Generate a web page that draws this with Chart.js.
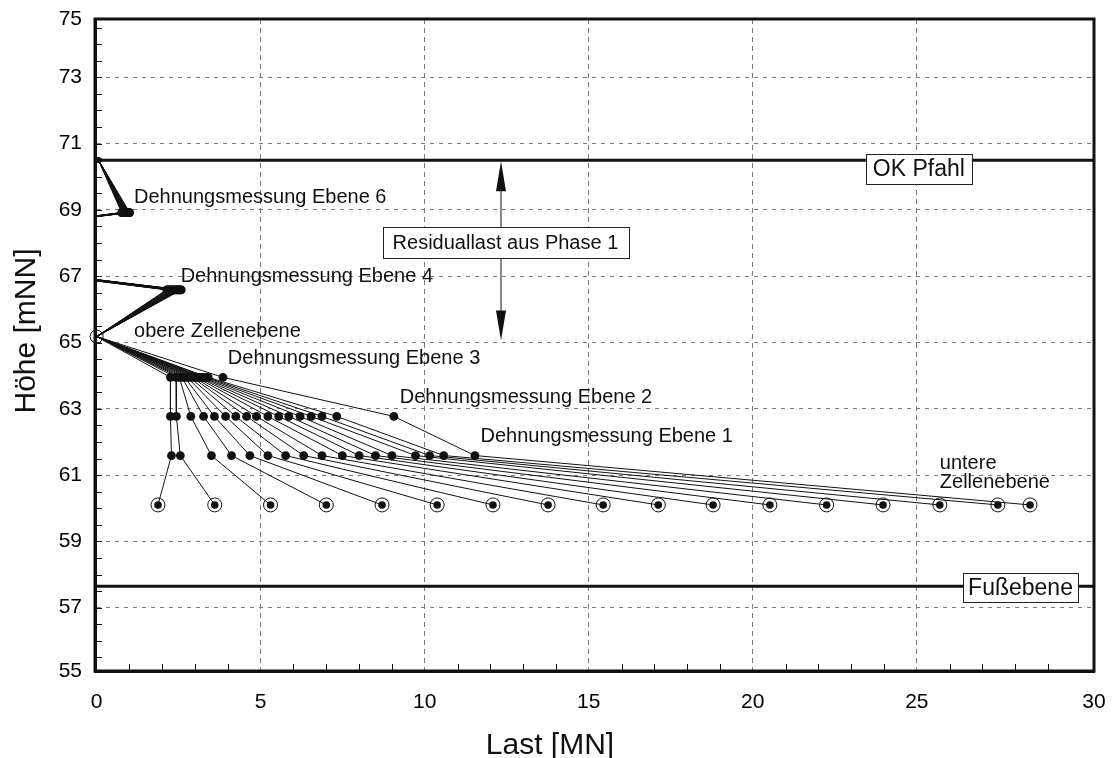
<!DOCTYPE html>
<html><head><meta charset="utf-8">
<script src="https://cdn.jsdelivr.net/npm/chart.js@4"></script>
<style>html,body{margin:0;padding:0;background:#fff}canvas{display:block}</style>
</head><body>
<canvas id="c" width="1117" height="758"></canvas>
<script>
// ---- data (Höhe levels in mNN, Last in MN per load step) ----
const levelNames = ['OK Pfahl','Ebene 6','Ebene 5','Ebene 4','obere Zellenebene','Ebene 3','Ebene 2','Ebene 1','untere Zellenebene'];
const levelHeights = [70.5, 68.92, 67.84, 66.59, 65.18, 63.95, 62.77, 61.59, 60.1];

const lastOKPfahl   = [0.06,0.06,0.06,0.06,0.06,0.06,0.06,0.06,0.06,0.06,0.06,0.06,0.06,0.06,0.06,0.06,0.06];
const lastEbene6    = [0.76,0.78,0.79,0.81,0.82,0.84,0.85,0.87,0.88,0.90,0.91,0.93,0.94,0.96,0.97,0.99,1.01];
const lastEbene5    = [-7.9,-7.9,-7.9,-7.9,-7.9,-7.9,-7.9,-7.9,-7.9,-7.9,-7.9,-7.9,-7.9,-7.9,-7.9,-7.9,-7.9];
const lastEbene4    = [2.13,2.16,2.19,2.22,2.25,2.28,2.31,2.34,2.37,2.40,2.43,2.46,2.49,2.52,2.54,2.56,2.58];
const lastObereZelle= [0,0,0,0,0,0,0,0,0,0,0,0,0,0,0,0,0];
const lastEbene3    = [2.25,2.42,2.52,2.60,2.68,2.76,2.84,2.91,2.98,3.04,3.10,3.16,3.22,3.28,3.34,3.40,3.85];
const lastEbene2    = [2.25,2.43,2.87,3.26,3.59,3.93,4.24,4.57,4.87,5.22,5.55,5.86,6.20,6.54,6.87,7.32,9.06];
const lastEbene1    = [2.28,2.55,3.50,4.11,4.67,5.22,5.76,6.31,6.87,7.49,8.00,8.50,9.00,9.72,10.15,10.58,11.53];
const lastUntereZelle=[1.87,3.60,5.30,7.00,8.70,10.38,12.08,13.76,15.44,17.12,18.79,20.52,22.25,23.97,25.70,27.47,28.45];

const okPfahlHeight = 70.5;
const fussebeneHeight = 57.65;
const residualArrowX = 12.31;
const residualArrowBottom = 65.06;

const xTickLabels = ['0','5','10','15','20','25','30'];
const xGridValues = [0,5,10,15,20,25];
const yTickLabels = ['55','57','59','61','63','65','67','69','71','73','75'];
const yGridValues = [57,59,61,63,65,67,69,71,73];
const xMin = -0.05, xMax = 30.4, yMin = 55.09, yMax = 74.76;

const FONT = '"Liberation Sans", Arial, Helvetica, sans-serif';
Chart.defaults.font.family = FONT;
Chart.defaults.color = '#000';

const levelLoads = [lastOKPfahl,lastEbene6,lastEbene5,lastEbene4,lastObereZelle,lastEbene3,lastEbene2,lastEbene1,lastUntereZelle];
const INK = '#111';

const datasets = [];
// open rings at the cell levels
datasets.push({
  type:'scatter',
  data:[{x:lastObereZelle[0], y:levelHeights[4]}].concat(lastUntereZelle.map(v=>({x:v,y:levelHeights[8]}))),
  pointRadius:[6.5].concat(lastUntereZelle.map(()=>7)),
  pointBackgroundColor:'rgba(0,0,0,0)',
  pointBorderColor:INK, pointBorderWidth:1, showLine:false, clip:false
});
for (let i = 0; i < lastUntereZelle.length; i++) {
  datasets.push({
    type:'line',
    data: levelHeights.map((h,j)=>({x: levelLoads[j][i], y: h})),
    borderColor:INK, borderWidth:1, tension:0,
    pointRadius:[2.8,4.4,0,4.4,0,4.4,4.4,4.4,3.8],
    pointBackgroundColor:INK, pointBorderWidth:0, pointStyle:'circle'
  });
}
// reference levels
datasets.push({type:'line', data:[{x:xMin,y:okPfahlHeight},{x:xMax,y:okPfahlHeight}], borderColor:INK, borderWidth:3, pointRadius:0});
datasets.push({type:'line', data:[{x:xMin,y:fussebeneHeight},{x:xMax,y:fussebeneHeight}], borderColor:INK, borderWidth:3, pointRadius:0});

function gridColor(c){
  const n = c.scale.ticks.length;
  return (c.index === 0 || c.index === n-1) ? 'rgba(0,0,0,0)' : '#7a7a7a';
}
function noPad(s){ s.paddingLeft = 0; s.paddingRight = 0; s.paddingTop = 0; s.paddingBottom = 0; }

const decor = {
  id:'decor',
  afterDatasetsDraw(chart){
    const {ctx, scales:{x,y}} = chart;
    ctx.save();
    ctx.fillStyle = INK; ctx.strokeStyle = INK;
    // arrow
    const ax = x.getPixelForValue(residualArrowX);
    const yTop = y.getPixelForValue(okPfahlHeight), yBot = y.getPixelForValue(residualArrowBottom);
    ctx.lineWidth = 1;
    ctx.beginPath(); ctx.moveTo(ax+0.5, yTop+20); ctx.lineTo(ax+0.5, yBot-20); ctx.stroke();
    const head = (tipY, dir) => {
      ctx.beginPath(); ctx.moveTo(ax+0.5, tipY); ctx.lineTo(ax+0.5-5, tipY+dir*30); ctx.lineTo(ax+0.5+5, tipY+dir*30); ctx.closePath(); ctx.fill();
    };
    head(yTop+1, 1); head(yBot, -1);

    // boxed labels
    const box = (text, xv, yv, size, padX, h) => {
      ctx.font = size + 'px ' + FONT;
      const w = ctx.measureText(text).width + 2*padX;
      const cx = x.getPixelForValue(xv), cy = y.getPixelForValue(yv);
      ctx.fillStyle = '#fff';
      ctx.fillRect(cx-w/2, cy-h/2, w, h);
      ctx.lineWidth = 1; ctx.strokeStyle = '#222';
      ctx.strokeRect(Math.round(cx-w/2)+0.5, Math.round(cy-h/2)+0.5, Math.round(w), Math.round(h));
      ctx.fillStyle = INK; ctx.textAlign = 'center'; ctx.textBaseline = 'middle';
      ctx.fillText(text, cx, cy+1);
    };
    box('Residuallast aus Phase 1', 12.46, 68.02, 20, 10, 31);
    box('OK Pfahl', 25.06, 70.24, 23, 7, 30);
    box('Fußebene', 28.16, 57.61, 23, 5, 29);

    // free text labels (left aligned, on baseline)
    ctx.font = '20px ' + FONT; ctx.fillStyle = INK; ctx.textAlign = 'left'; ctx.textBaseline = 'alphabetic';
    const label = (text, xv, yv) => ctx.fillText(text, x.getPixelForValue(xv), y.getPixelForValue(yv));
    label('Dehnungsmessung Ebene 6', 1.14, 69.22);
    label('Dehnungsmessung Ebene 4', 2.56, 66.84);
    label('obere Zellenebene', 1.14, 65.18);
    label('Dehnungsmessung Ebene 3', 4.0, 64.36);
    label('Dehnungsmessung Ebene 2', 9.24, 63.17);
    label('Dehnungsmessung Ebene 1', 11.7, 62.01);
    label('untere', 25.7, 61.18);
    label('Zellenebene', 25.7, 60.62);
    ctx.restore();
  },
  afterDraw(chart){
    const {ctx, chartArea:a, scales:{x,y}} = chart;
    ctx.save();
    ctx.strokeStyle = INK;
    // minor ticks inside the frame
    ctx.lineWidth = 1;
    ctx.beginPath();
    for (let v = 1; v < 30.4; v += 1) {
      if (v % 5 === 0) continue;
      const px = Math.round(x.getPixelForValue(v)) + 0.5;
      ctx.moveTo(px, a.bottom); ctx.lineTo(px, a.bottom - 7);
    }
    for (let k = 111; k < 150; k++) {
      const v = k / 2;
      if (v > yMax - 0.1) break;
      const py = Math.round(y.getPixelForValue(v)) + 0.5;
      ctx.moveTo(a.left, py); ctx.lineTo(a.left + 7, py);
    }
    ctx.stroke();
    // frame
    ctx.lineWidth = 3;
    ctx.strokeRect(a.left, a.top, a.right - a.left, a.bottom - a.top);
    // axis titles
    ctx.fillStyle = INK;
    ctx.font = '30px ' + FONT;
    ctx.textAlign = 'center'; ctx.textBaseline = 'alphabetic';
    ctx.fillText('Last [MN]', 550, 754);
    ctx.translate(35, 331);
    ctx.rotate(-Math.PI/2);
    ctx.fillText('Höhe [mNN]', 0, 0);
    ctx.restore();
  }
};

new Chart(document.getElementById('c'), {
  type:'scatter',
  data:{datasets},
  options:{
    responsive:false, animation:false,
    layout:{padding:{left:0, right:23, top:19, bottom:0}},
    plugins:{legend:{display:false}, tooltip:{enabled:false}},
    scales:{
      x:{
        type:'linear', min:xMin, max:xMax,
        afterBuildTicks:(s)=>{ s.ticks = xGridValues.concat([s.max]).map(v=>({value:v})); },
        afterFit:(s)=>{ s.height = 87; noPad(s); },
        ticks:{autoSkip:false, maxRotation:0, padding:19, font:{size:21}, color:'#000',
               callback:(v,i)=>xTickLabels[i]},
        grid:{drawTicks:false, color:gridColor, lineWidth:1},
        border:{display:true, color:INK, width:3, dash:[5,4]}
      },
      y:{
        type:'linear', min:yMin, max:yMax,
        afterBuildTicks:(s)=>{ s.ticks = [s.min].concat(yGridValues, [s.max]).map(v=>({value:v})); },
        afterFit:(s)=>{ s.width = 95; noPad(s); },
        ticks:{autoSkip:false, padding:13, font:{size:21}, color:'#000',
               callback:(v,i)=>yTickLabels[i]},
        grid:{drawTicks:false, color:gridColor, lineWidth:1},
        border:{display:true, color:INK, width:3, dash:[4,5]}
      }
    }
  },
  plugins:[decor]
});
</script>
</body></html>
